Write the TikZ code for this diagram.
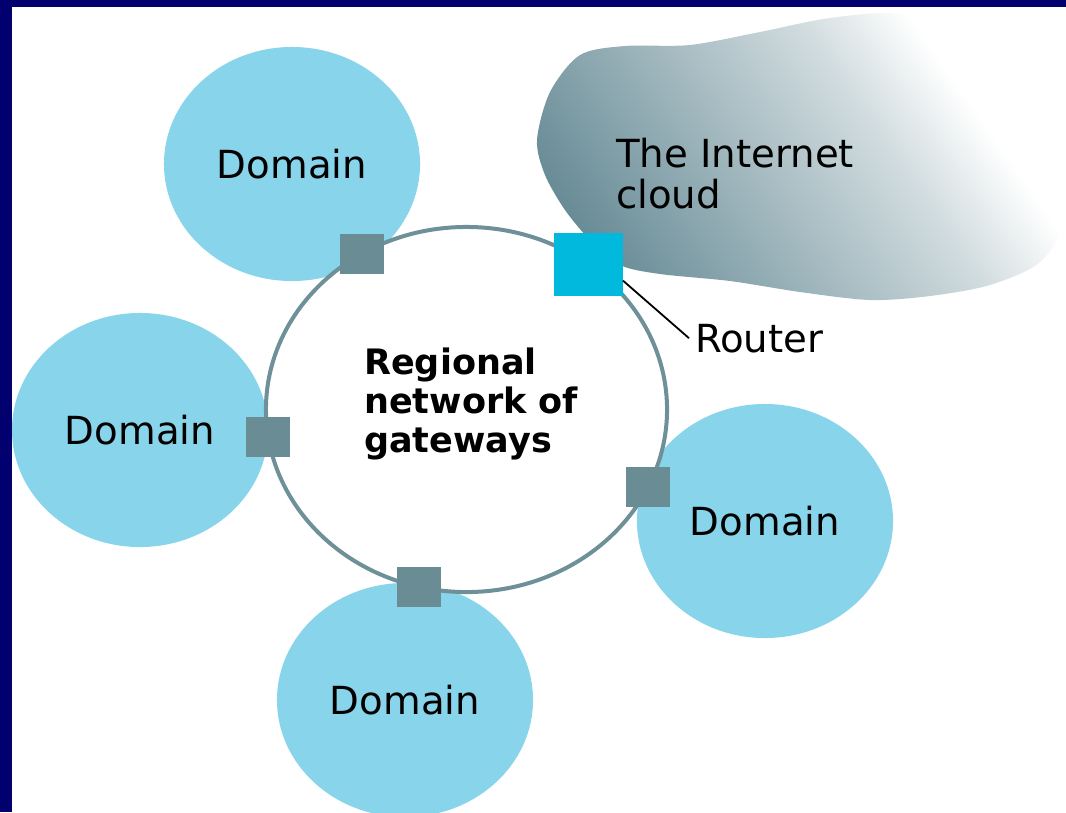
\documentclass[tikz,border=0pt]{standalone}
\usepackage{fontspec}
\setmainfont{DejaVu Sans}
\usepackage{xcolor}
\usepackage{tikz}
\usetikzlibrary{positioning,shapes.geometric}
\definecolor{NETnavy}{HTML}{01006E}
\definecolor{NETdomain}{HTML}{88D4EA}
\definecolor{NETgate}{HTML}{6A8C95}
\definecolor{NETring}{HTML}{6E9099}
\definecolor{NETrouter}{HTML}{00B9DC}
\definecolor{NETcloud}{HTML}{5A818D}
\colorlet{NETcloudA}{NETcloud!90!white}
\colorlet{NETcloudB}{NETcloud!62!white}
\colorlet{NETcloudC}{NETcloud!28!white}
\pgfdeclarehorizontalshading{cloudfade}{100bp}{color(0bp)=(NETcloud); color(18bp)=(NETcloud); color(25bp)=(NETcloudA); color(40.6bp)=(NETcloudB); color(59bp)=(NETcloudC); color(70bp)=(white); color(100bp)=(white)}
\tikzset{
  domainbox/.style={ellipse, fill=NETdomain, inner sep=0, minimum width=6.4cm, minimum height=5.85cm, font=\fontsize{27.5}{29.2}\selectfont, text=black},
  ringbox/.style={ellipse, draw=NETring, line width=0.1cm, fill=white, inner sep=0, outer sep=0, minimum width=10.025cm, minimum height=9.125cm},
  gatebox/.style={rectangle, fill=NETgate, inner sep=0, minimum width=1.1cm, minimum height=1.0cm},
  routerbox/.style={rectangle, fill=NETrouter, inner sep=0, minimum width=1.725cm, minimum height=1.575cm},
  plaintxt/.style={inner sep=0, align=left, font=\fontsize{27.5}{29.2}\selectfont, text=black},
  boldtxt/.style={inner sep=0, align=left, font=\fontsize{24.9}{27.7}\selectfont\bfseries, text=black},
  rtrline/.style={draw=black, line width=0.045cm}
}
\begin{document}
\begin{tikzpicture}[x=0.025cm, y=-0.025cm]
  \useasboundingbox (0,0) rectangle (1066,812);
  \fill[NETnavy] (0,0) rectangle (1066,812);
  \fill[white] (12,7) rectangle (1066,812);
  \begin{scope}
    \clip (12,7) rectangle (1066,812);
    % internet cloud
    \shade[shading=cloudfade, shading angle=35] plot[smooth cycle] coordinates {(537,140) (550,92) (580,55) (625,46) (690,45) (760,32) (830,18) (900,14) (970,40) (1030,120) (1060,220) (1040,262) (990,285) (930,296) (870,300) (800,292) (730,281) (660,274) (620,265) (590,240) (565,210) (545,175)};
    % domains
    \node[domainbox] (domTL) at (292,164) {Domain};
    \node[domainbox] (domL) at (140,430) {Domain};
    \node[domainbox] (domR) at (765,521) {Domain};
    \node[domainbox] (domB) at (405,700) {Domain};
    % regional ring and gateways
    \node[ringbox] (ring) at (466.5,409.5) {};
    \node[gatebox] (gwTL) at (ring.124) {};
    \node[gatebox] (gwL) at (ring.188) {};
    \node[gatebox] (gwR) at (ring.-23) {};
    \node[gatebox] (gwB) at (ring.255.5) {};
    \node[routerbox] (router) at (ring.50) {};
    \node[boldtxt, anchor=north west] (regtxt) at (364,347.4) {Regional\\network of\\gateways};
    \node[plaintxt, anchor=north west] (cloudtxt) at (616,137.4) {The Internet\\cloud};
    \node[plaintxt, anchor=base west, outer xsep=0.15cm] (rtrtxt) at (689,352) {Router};
    \draw[rtrline] (router.-25) -- (rtrtxt.west);
  \end{scope}
\end{tikzpicture}
\end{document}
